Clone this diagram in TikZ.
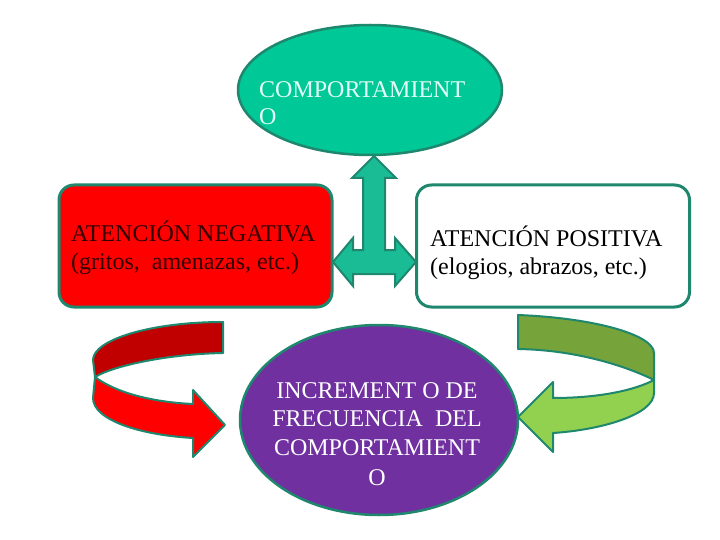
\documentclass[tikz,border=0pt]{standalone}
\usepackage{fontspec}
\setmainfont{Liberation Serif}
\usetikzlibrary{shapes.geometric}
\definecolor{tealedge}{RGB}{30,135,110}
\definecolor{tealfill}{RGB}{0,200,150}
\definecolor{arrowteal}{RGB}{26,188,150}
\definecolor{purplefill}{RGB}{112,48,160}
\definecolor{darkred}{RGB}{192,0,0}
\definecolor{darkgreen}{RGB}{118,163,58}
\definecolor{lightgreen}{RGB}{146,208,80}
\definecolor{lighttext}{RGB}{225,255,248}
\definecolor{redtext}{RGB}{50,0,0}
\tikzset{
  outl/.style={draw=tealedge, line width=2.5pt, line join=round},
  txt/.style={inner sep=0pt, anchor=base west, font=\fontsize{24}{28}\selectfont},
  ctxt/.style={inner sep=0pt, anchor=base, font=\fontsize{24}{28}\selectfont, text=white},
}
\begin{document}
\begin{tikzpicture}[x=1pt,y=-1pt]
\useasboundingbox (0,0) rectangle (720,540);
% top ellipse
\node[ellipse, outl, fill=tealfill, minimum width=264pt, minimum height=130pt] (top) at (370,90) {};
\node[txt, text=lighttext] (t1) at (259,98) {COMPORTAMIENT};
\node[txt, text=lighttext] (t2) at (259,125) {O};
% boxes
\node[draw=tealedge, line width=3pt, fill=red, rounded corners=15pt, minimum width=273pt, minimum height=122pt] (neg) at (195.5,246) {};
\node[txt, text=redtext] (n1) at (71,241) {ATENCIÓN NEGATIVA};
\node[txt, text=redtext] (n2) at (71,269) {(gritos,\ \ amenazas, etc.)};
\node[draw=tealedge, line width=3pt, fill=white, rounded corners=15pt, minimum width=273pt, minimum height=122pt] (pos) at (553,246) {};
\node[txt] (p1) at (430,247) {ATENCIÓN POSITIVA};
\node[txt] (p2) at (430,274) {(elogios, abrazos, etc.)};
% T double arrow
\fill[arrowteal, draw=tealedge, line width=2pt, line join=miter]
 (374,156) -- (396,178) -- (385,178) -- (385,250) -- (395,250) -- (395,238) -- (416,262)
 -- (395,286) -- (395,274) -- (353,274) -- (353,286) -- (333,262) -- (353,238) -- (353,250)
 -- (363,250) -- (363,178) -- (352,178) -- cycle;
% bottom ellipse
\node[ellipse, outl, fill=purplefill, minimum width=278pt, minimum height=190pt] (bot) at (379,420) {};
\node[ctxt] (b1) at (377,398) {INCREMENT O DE};
\node[ctxt] (b2) at (377,426) {FRECUENCIA\ \ DEL};
\node[ctxt] (b3) at (377,455) {COMPORTAMIENT};
\node[ctxt] (b4) at (377,485) {O};
% red curved arrow
\filldraw[outl, fill=darkred, line width=2pt]
 (223,322) .. controls (150,322) and (93,340) .. (93,360) -- (95,377)
 .. controls (115,365) and (170,354) .. (223,353) -- cycle;
\filldraw[outl, fill=red, line width=2pt]
 (95,377) .. controls (115,392) and (150,402) .. (193,404) -- (193,390) -- (225,425)
 -- (193,457) -- (193,438) .. controls (140,435) and (93,420) .. (93,398) -- cycle;
% green curved arrow
\filldraw[outl, fill=darkgreen, line width=2pt]
 (518,315) .. controls (595,318) and (654,335) .. (654,353) -- (654,380)
 .. controls (630,368) and (580,350) .. (518,349) -- cycle;
\filldraw[outl, fill=lightgreen, line width=2pt]
 (654,380) .. controls (635,390) and (600,398) .. (553,398) -- (553,382) -- (518,417)
 -- (553,452) -- (553,433) .. controls (600,430) and (654,415) .. (654,393) -- cycle;
\end{tikzpicture}
\end{document}
